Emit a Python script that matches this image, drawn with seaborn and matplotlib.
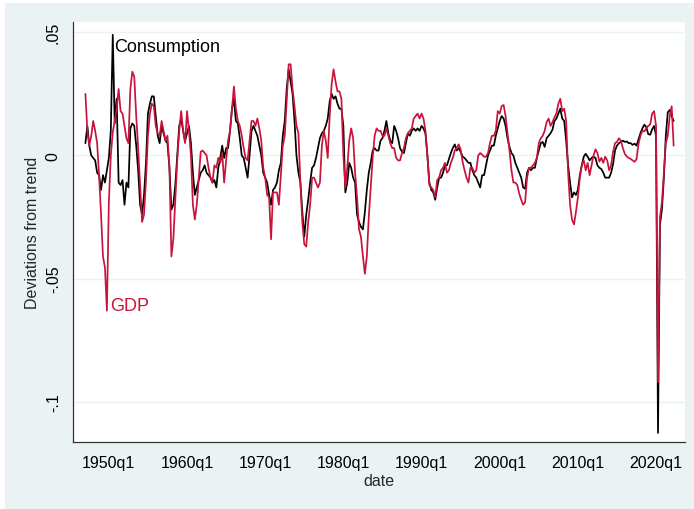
import numpy as np
import pandas as pd
import matplotlib
matplotlib.use("Agg")
import matplotlib.pyplot as plt
import seaborn as sns

# quarterly deviations from HP trend, 1947q1 - 2022q2
consumption = [
    0.005, 0.012, 0.004, 0.000, -0.001, -0.002, -0.007, -0.008, -0.014, -0.008,
    -0.011, -0.006, -0.001, 0.010, 0.049, 0.013, 0.023, -0.011, -0.012, -0.010,
    -0.020, -0.011, -0.013, 0.011, 0.013, 0.012, 0.004, -0.006, -0.020, -0.024,
    -0.016, -0.003, 0.017, 0.021, 0.024, 0.024, 0.016, 0.008, 0.005, 0.012,
    0.009, 0.006, 0.005, -0.005, -0.022, -0.020, -0.012, 0.000, 0.012, 0.015,
    0.010, 0.006, 0.009, 0.012, 0.005, -0.007, -0.016, -0.013, -0.010, -0.007,
    -0.006, -0.004, -0.007, -0.008, -0.009, -0.011, -0.010, -0.013, -0.005, -0.001,
    0.004, -0.001, 0.003, 0.003, 0.010, 0.019, 0.023, 0.014, 0.013, 0.007,
    0.000, -0.001, -0.005, -0.009, 0.000, 0.010, 0.012, 0.010, 0.008, 0.004,
    0.000, -0.007, -0.009, -0.011, -0.016, -0.020, -0.014, -0.013, -0.011, -0.006,
    -0.003, 0.008, 0.014, 0.027, 0.035, 0.030, 0.025, 0.014, 0.000, -0.007,
    -0.011, -0.023, -0.033, -0.024, -0.018, -0.011, -0.005, -0.004, -0.001, 0.003,
    0.007, 0.009, 0.010, 0.012, 0.015, 0.022, 0.025, 0.023, 0.024, 0.021,
    0.019, 0.019, 0.012, -0.015, -0.011, -0.003, -0.005, -0.009, -0.011, -0.024,
    -0.027, -0.029, -0.030, -0.023, -0.014, -0.007, -0.003, 0.002, 0.003, 0.002,
    0.002, 0.006, 0.007, 0.010, 0.014, 0.009, 0.006, 0.005, 0.012, 0.010,
    0.007, 0.003, 0.0015, 0.001, 0.005, 0.009, 0.008, 0.010, 0.011, 0.010,
    0.011, 0.010, 0.012, 0.011, 0.009, 0.000, -0.011, -0.014, -0.015, -0.018,
    -0.013, -0.009, -0.009, -0.007, -0.004, -0.004, -0.0015, 0.001, 0.003, 0.0045,
    0.002, 0.003, 0.0015, -0.0005, -0.001, -0.002, -0.003, -0.003, -0.006, -0.008,
    -0.009, -0.011, -0.013, -0.008, -0.008, -0.004, 0.000, 0.002, 0.004, 0.004,
    0.008, 0.011, 0.014, 0.016, 0.015, 0.012, 0.007, 0.0035, 0.001, 0.000,
    -0.003, -0.005, -0.007, -0.009, -0.013, -0.0135, -0.007, -0.005, -0.006, -0.005,
    -0.005, -0.001, 0.002, 0.005, 0.0055, 0.0035, 0.007, 0.008, 0.009, 0.0105,
    0.014, 0.015, 0.017, 0.019, 0.015, 0.014, 0.006, -0.004, -0.011, -0.017,
    -0.015, -0.016, -0.014, -0.008, -0.004, -0.0005, 0.0007, -0.0005, -0.002, -0.001,
    -0.0005, -0.001, -0.004, -0.005, -0.0055, -0.007, -0.009, -0.009, -0.009, -0.007,
    -0.0035, 0.002, 0.004, 0.005, 0.0055, 0.006, 0.0055, 0.0057, 0.005, 0.005,
    0.0043, 0.0048, 0.004, 0.0065, 0.009, 0.011, 0.0125, 0.0115, 0.0087, 0.0084,
    0.0106, 0.012, 0.008, -0.1126, -0.028, -0.022, -0.009, 0.008, 0.0175, 0.0185,
    0.016, 0.014,
]

gdp = [
    0.025, 0.010, 0.004, 0.008, 0.014, 0.010, 0.005, -0.008, -0.024, -0.041,
    -0.0455, -0.063, -0.019, 0.000, 0.0095, 0.014, 0.019, 0.027, 0.018, 0.017,
    0.012, 0.007, 0.005, 0.027, 0.034, 0.032, 0.016, 0.003, -0.012, -0.027,
    -0.024, -0.010, 0.008, 0.017, 0.021, 0.020, 0.012, 0.009, 0.008, 0.014,
    0.010, 0.006, 0.008, -0.005, -0.041, -0.034, -0.018, -0.002, 0.010, 0.018,
    0.010, 0.005, 0.018, 0.010, 0.000, -0.020, -0.026, -0.020, -0.009, 0.0015,
    0.002, 0.001, 0.000, -0.005, -0.009, -0.011, -0.004, -0.005, -0.001, -0.003,
    0.001, -0.011, -0.002, 0.006, 0.010, 0.019, 0.028, 0.019, 0.014, 0.012,
    0.008, 0.003, -0.001, -0.002, 0.006, 0.014, 0.014, 0.012, 0.015, 0.011,
    0.006, -0.005, -0.009, -0.016, -0.017, -0.034, -0.015, -0.015, -0.015, -0.020,
    -0.008, 0.004, 0.008, 0.022, 0.037, 0.037, 0.027, 0.020, 0.012, 0.009,
    -0.011, -0.027, -0.036, -0.037, -0.027, -0.020, -0.009, -0.009, -0.011, -0.013,
    -0.011, 0.004, 0.010, 0.006, -0.001, 0.016, 0.029, 0.035, 0.030, 0.026,
    0.026, 0.023, 0.000, -0.013, -0.005, 0.006, 0.011, 0.007, -0.007, -0.017,
    -0.030, -0.033, -0.041, -0.048, -0.041, -0.025, -0.013, -0.001, 0.008, 0.011,
    0.010, 0.010, 0.008, 0.008, 0.011, 0.008, 0.005, 0.003, 0.003, -0.001,
    -0.002, -0.002, 0.001, 0.003, 0.007, 0.009, 0.010, 0.011, 0.015, 0.016,
    0.017, 0.015, 0.017, 0.015, 0.010, 0.000, -0.012, -0.013, -0.014, -0.017,
    -0.010, -0.009, -0.006, -0.005, -0.003, -0.007, -0.006, -0.003, -0.001, 0.002,
    0.003, 0.0045, 0.0025, -0.0025, -0.006, -0.009, -0.011, -0.005, -0.005, -0.007,
    -0.006, 0.000, 0.001, 0.0003, -0.0005, -0.0005, 0.001, 0.005, 0.008, 0.008,
    0.010, 0.018, 0.017, 0.020, 0.0205, 0.016, 0.009, 0.002, -0.006, -0.011,
    -0.011, -0.012, -0.0155, -0.018, -0.020, -0.019, -0.009, -0.005, -0.005, -0.004,
    -0.003, -0.001, 0.005, 0.007, 0.008, 0.010, 0.0135, 0.015, 0.012, 0.0135,
    0.0155, 0.017, 0.021, 0.023, 0.018, 0.019, 0.014, -0.007, -0.020, -0.026,
    -0.028, -0.023, -0.017, -0.009, -0.004, -0.002, -0.006, -0.003, -0.008, -0.004,
    0.000, 0.0025, 0.001, -0.0025, -0.001, -0.003, -0.0005, -0.002, -0.006, -0.004,
    0.0015, 0.005, 0.0055, 0.007, 0.006, 0.003, 0.0007, -0.0004, -0.001, -0.0014,
    -0.002, -0.0026, -0.0015, 0.0046, 0.008, 0.010, 0.0098, 0.011, 0.012, 0.0126,
    0.017, 0.018, 0.012, -0.092, -0.025, -0.019, -0.007, 0.005, 0.008, 0.016,
    0.020, 0.004,
]

first_year = 1947
tick_years = [1950, 1960, 1970, 1980, 1990, 2000, 2010, 2020]
tick_labels = ["1950q1", "1960q1", "1970q1", "1980q1", "1990q1", "2000q1", "2010q1", "2020q1"]
ytick_vals = [0.05, 0, -0.05, -0.1]
ytick_labels = [".05", "0", "-.05", "-.1"]

# quarters (since 1947q1) where the series labels sit
cons_label_q = 14   # 1950q3 spike
gdp_label_q = 11    # 1949q4 trough

bg = "#EAF2F3"
red = "#C8143C"

# x is quarters since 1947q1
df = pd.DataFrame({"date": np.arange(len(gdp)), "Consumption": consumption, "GDP": gdp})
tick_pos = [(y - first_year) * 4 for y in tick_years]

sns.set_theme(style="white")
plt.rcParams["font.family"] = ["Liberation Sans", "DejaVu Sans"]

fig = plt.figure(figsize=(6.94, 5.10), dpi=100, facecolor="white")
fig.add_artist(plt.Rectangle((5 / 694, 0), 1, 1 - 4 / 510, transform=fig.transFigure,
                             facecolor=bg, edgecolor="none", zorder=-10))
ax = fig.add_axes([0.1056, 0.1304, 0.8814, 0.8251])
ax.set_facecolor("white")

sns.lineplot(data=df, x="date", y="Consumption", color="black", lw=1.25, ax=ax)
sns.lineplot(data=df, x="date", y="GDP", color=red, lw=1.25, ax=ax)

# label the extreme points like Stata's mlabel
ax.text(cons_label_q + 0.6, consumption[cons_label_q] - 0.0048, "Consumption", color="black",
        fontsize=13, va="center", ha="left")
ax.text(gdp_label_q + 1.6, gdp[gdp_label_q] + 0.0022, "GDP", color=red,
        fontsize=13, va="center", ha="left")

ax.set_xlim(-6.2, 306.8)
ax.set_ylim(-0.1165, 0.0543)
ax.set_xticks(tick_pos)
ax.set_xticklabels(tick_labels, fontsize=11.5)
ax.set_yticks(ytick_vals)
ax.set_yticklabels(ytick_labels, fontsize=11.5, rotation=90, va="center")
ax.yaxis.grid(True, color=bg, lw=1)
ax.xaxis.grid(False)
ax.set_axisbelow(True)

for s in ["top", "right"]:
    ax.spines[s].set_visible(False)
for s in ["left", "bottom"]:
    ax.spines[s].set_color("#333333")
    ax.spines[s].set_linewidth(0.9)
ax.tick_params(direction="out", length=5, width=0.9, color="#333333", labelcolor="black", pad=4)

ax.set_xlabel("date", fontsize=11.5, labelpad=2)
ax.set_ylabel("Deviations from trend", fontsize=11.5, labelpad=4)

fig.savefig("out.png", dpi=100, facecolor=fig.get_facecolor())
